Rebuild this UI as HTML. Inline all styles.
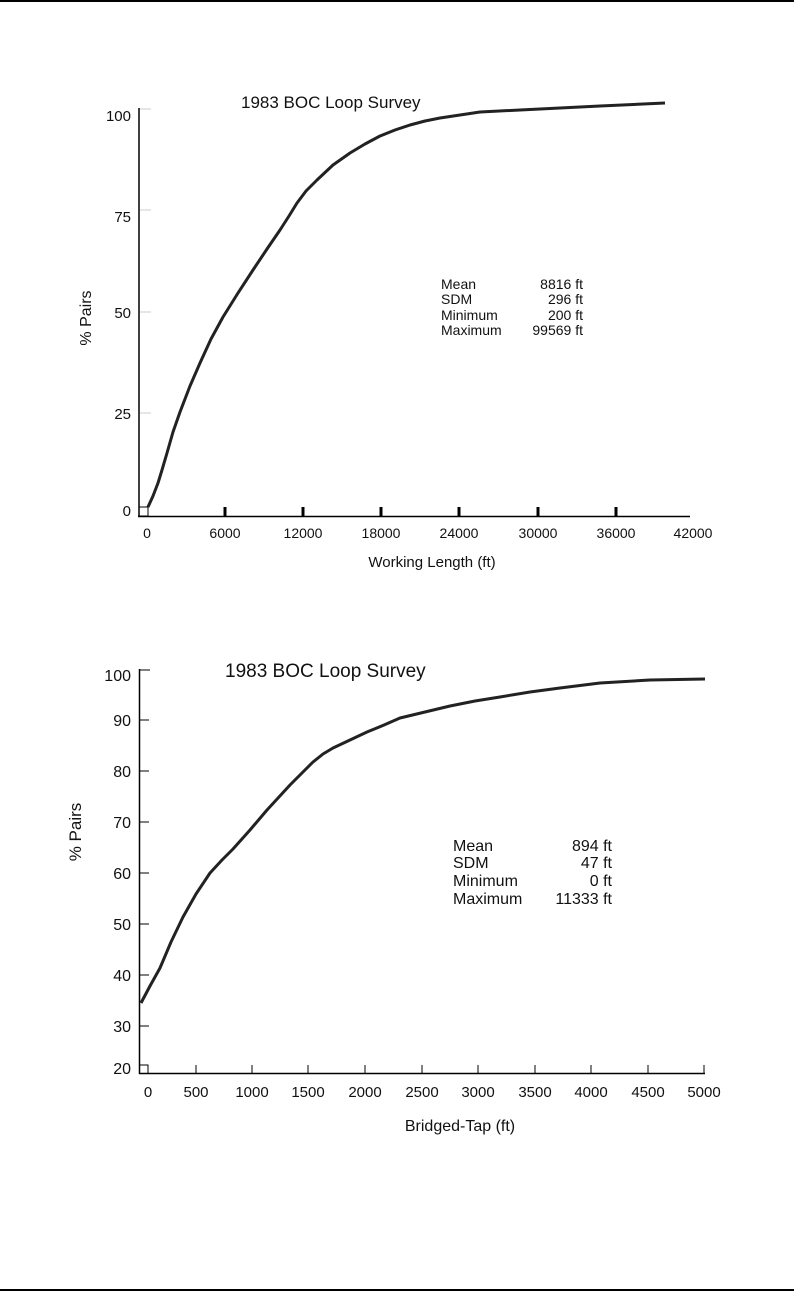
<!DOCTYPE html>
<html><head><style>body{margin:0;background:#fff}svg{display:block}text{font-family:"Liberation Sans",sans-serif;fill:#111}</style></head><body>
<svg width="794" height="1298" viewBox="0 0 794 1298">
<line x1="0" y1="1" x2="794" y2="1" stroke="#000" stroke-width="2"/>
<line x1="0" y1="1290" x2="794" y2="1290" stroke="#000" stroke-width="2"/>
<!-- top chart -->
<text x="241" y="108" font-size="17">1983 BOC Loop Survey</text>
<line x1="139" y1="108" x2="139" y2="517" stroke="#000" stroke-width="1.5"/>
<line x1="138" y1="516.5" x2="690" y2="516.5" stroke="#000" stroke-width="1.5"/>
<g stroke="#ccc" stroke-width="1"><line x1="140" y1="109" x2="151" y2="109"/><line x1="140" y1="210" x2="151" y2="210"/><line x1="140" y1="312" x2="151" y2="312"/><line x1="140" y1="413" x2="151" y2="413"/></g>
<rect x="139" y="507" width="9" height="9" fill="none" stroke="#000" stroke-width="1"/>
<g stroke="#000" stroke-width="3"><line x1="225" y1="507" x2="225" y2="516"/><line x1="303" y1="507" x2="303" y2="516"/><line x1="381" y1="507" x2="381" y2="516"/><line x1="459" y1="507" x2="459" y2="516"/><line x1="538" y1="507" x2="538" y2="516"/><line x1="616" y1="507" x2="616" y2="516"/></g>
<g font-size="15" text-anchor="end"><text x="131" y="121">100</text><text x="131" y="222">75</text><text x="131" y="318">50</text><text x="131" y="419">25</text><text x="131" y="516">0</text></g>
<g font-size="14" text-anchor="middle"><text x="147" y="538">0</text><text x="225" y="538">6000</text><text x="303" y="538">12000</text><text x="381" y="538">18000</text><text x="459" y="538">24000</text><text x="538" y="538">30000</text><text x="616" y="538">36000</text><text x="693" y="538">42000</text></g>
<text x="432" y="567" font-size="15" text-anchor="middle">Working Length (ft)</text>
<text transform="translate(91,318) rotate(-90)" font-size="16" text-anchor="middle">%  Pairs</text>
<polyline points="148,507 153,496 158,483 162,470 167,453 173,432 180,412 190,386 200,363 211,339 223,317 238,293 253,270 267,249 280,230 289,216 297,203 306,191 317,180 333,165 350,153 365,144 380,136 395,130 410,125 425,121 440,118 460,115 480,112 520,110 560,108 600,106 665,103" fill="none" stroke="#222" stroke-width="3" stroke-linejoin="round"/>
<g font-size="14"><text x="441" y="289">Mean</text><text x="441" y="304">SDM</text><text x="441" y="320">Minimum</text><text x="441" y="335">Maximum</text></g>
<g font-size="14" text-anchor="end"><text x="583" y="289">8816 ft</text><text x="583" y="304">296 ft</text><text x="583" y="320">200 ft</text><text x="583" y="335">99569 ft</text></g>
<!-- bottom chart -->
<text x="225" y="677" font-size="19">1983 BOC Loop Survey</text>
<line x1="139.5" y1="669" x2="139.5" y2="1074" stroke="#000" stroke-width="1.5"/>
<line x1="139" y1="1073.5" x2="705" y2="1073.5" stroke="#000" stroke-width="1.5"/>
<g stroke="#000" stroke-width="1"><line x1="140" y1="670" x2="150" y2="670"/><line x1="140" y1="720" x2="149" y2="720"/><line x1="140" y1="771" x2="149" y2="771"/><line x1="140" y1="822" x2="149" y2="822"/><line x1="140" y1="873" x2="149" y2="873"/><line x1="140" y1="924" x2="149" y2="924"/><line x1="140" y1="975" x2="149" y2="975"/><line x1="140" y1="1026" x2="149" y2="1026"/>
<polyline points="140,1065 148,1065 148,1073" fill="none"/>
<line x1="196" y1="1065" x2="196" y2="1073"/><line x1="252" y1="1065" x2="252" y2="1073"/><line x1="308" y1="1065" x2="308" y2="1073"/><line x1="365" y1="1065" x2="365" y2="1073"/><line x1="422" y1="1065" x2="422" y2="1073"/><line x1="478" y1="1065" x2="478" y2="1073"/><line x1="535" y1="1065" x2="535" y2="1073"/><line x1="591" y1="1065" x2="591" y2="1073"/><line x1="648" y1="1065" x2="648" y2="1073"/><line x1="704" y1="1065" x2="704" y2="1073"/></g>
<g font-size="16" text-anchor="end"><text x="131" y="681">100</text><text x="131" y="726">90</text><text x="131" y="777">80</text><text x="131" y="828">70</text><text x="131" y="879">60</text><text x="131" y="930">50</text><text x="131" y="981">40</text><text x="131" y="1032">30</text><text x="131" y="1074">20</text></g>
<g font-size="15" text-anchor="middle"><text x="148" y="1097">0</text><text x="196" y="1097">500</text><text x="252" y="1097">1000</text><text x="308" y="1097">1500</text><text x="365" y="1097">2000</text><text x="422" y="1097">2500</text><text x="478" y="1097">3000</text><text x="535" y="1097">3500</text><text x="591" y="1097">4000</text><text x="648" y="1097">4500</text><text x="704" y="1097">5000</text></g>
<text x="460" y="1131" font-size="16" text-anchor="middle">Bridged-Tap (ft)</text>
<text transform="translate(81,832) rotate(-90)" font-size="17" text-anchor="middle">%  Pairs</text>
<polyline points="141,1003 150,986 160,968 171,942 183,917 196,894 210,873 222,860 233,849 250,830 267,810 290,785 313,762 323,754 333,748 350,740 367,732 384,725 400,718 425,712 450,706 475,701 500,697 530,692 560,688 600,683 650,680 705,679" fill="none" stroke="#222" stroke-width="3" stroke-linejoin="round"/>
<g font-size="16"><text x="453" y="851">Mean</text><text x="453" y="868">SDM</text><text x="453" y="886">Minimum</text><text x="453" y="904">Maximum</text></g>
<g font-size="16" text-anchor="end"><text x="612" y="851">894 ft</text><text x="612" y="868">47 ft</text><text x="612" y="886">0 ft</text><text x="612" y="904">11333 ft</text></g>
</svg></body></html>
